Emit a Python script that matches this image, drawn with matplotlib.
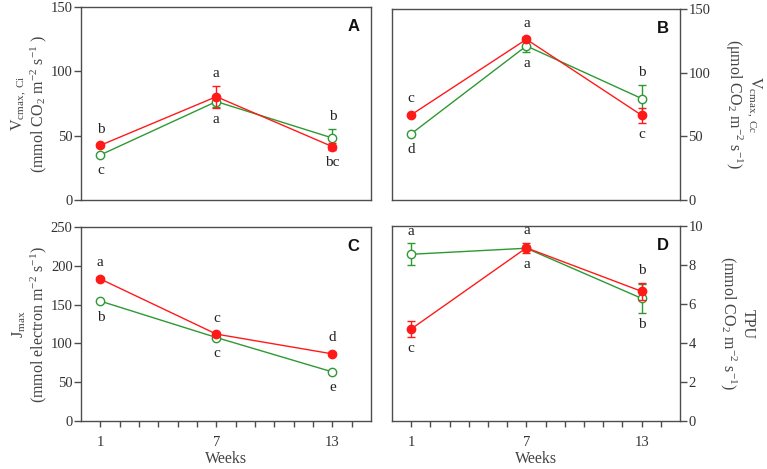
import matplotlib
matplotlib.use("Agg")
import matplotlib.pyplot as plt
import numpy as np

plt.rcParams['font.family'] = ['Liberation Serif', 'DejaVu Serif']
plt.rcParams['mathtext.fontset'] = 'stix'

weeks = [1, 7, 13]

# Panel A: Vcmax,Ci
a_red = [42.5, 80.3, 41.5]
a_red_err = [1.0, 8.6, 3.0]
a_green = [35.0, 76.5, 48.2]
a_green_err = [1.0, 4.5, 7.0]
a_red_letters = ['b', 'a', 'bc']
a_green_letters = ['c', 'a', 'b']

# Panel B: Vcmax,Cc
b_red = [66.9, 126.2, 66.6]
b_red_err = [1.0, 1.5, 6.0]
b_green = [52.0, 121.0, 79.7]
b_green_err = [1.0, 4.5, 11.0]
b_red_letters = ['c', 'a', 'c']
b_green_letters = ['d', 'a', 'b']

# Panel C: Jmax
c_red = [183.0, 112.0, 86.5]
c_red_err = [2.0, 2.0, 2.0]
c_green = [154.5, 107.6, 63.3]
c_green_err = [1.0, 1.0, 1.0]
c_red_letters = ['a', 'c', 'd']
c_green_letters = ['b', 'c', 'e']

# Panel D: TPU
d_red = [4.72, 8.88, 6.65]
d_red_err = [0.40, 0.26, 0.43]
d_green = [8.55, 8.86, 6.29]
d_green_err = [0.57, 0.10, 0.75]
d_red_letters = ['c', 'a', 'b']
d_green_letters = ['a', 'a', 'b']

RED = '#FF1A1A'
GREEN = '#2E9932'
GRAY = '#4D4D4D'

W, H = 767, 469
fig = plt.figure(figsize=(W / 100, H / 100), dpi=100)

def box(l, r, t, b):
    return [l / W, (H - b) / H, (r - l) / W, (b - t) / H]

axA = fig.add_axes(box(81, 371, 7, 200))
axB = fig.add_axes(box(392, 680, 9, 200))
axC = fig.add_axes(box(81, 371, 227, 421))
axD = fig.add_axes(box(392, 680, 226, 421))

panels = [
    (axA, a_red, a_red_err, a_green, a_green_err, a_red_letters, a_green_letters, (0, 150), [0, 50, 100, 150], 'A'),
    (axB, b_red, b_red_err, b_green, b_green_err, b_red_letters, b_green_letters, (0, 150), [0, 50, 100, 150], 'B'),
    (axC, c_red, c_red_err, c_green, c_green_err, c_red_letters, c_green_letters, (0, 250), [0, 50, 100, 150, 200, 250], 'C'),
    (axD, d_red, d_red_err, d_green, d_green_err, d_red_letters, d_green_letters, (0, 10), [0, 2, 4, 6, 8, 10], 'D'),
]

for ax, r, re, g, ge, rl, gl, ylim, yt, tag in panels:
    ax.set_xlim(0, 15)
    ax.set_ylim(*ylim)
    ax.set_yticks(yt)
    for s in ax.spines.values():
        s.set_color(GRAY)
        s.set_linewidth(1.0)
    ax.tick_params(axis='y', direction='out', length=5, width=1, colors=GRAY,
                   labelsize=10.5, labelcolor='#333333', pad=1)
    ax.errorbar(weeks, g, yerr=ge, color=GREEN, lw=1.0, marker='o', ms=6,
                mfc='white', mec=GREEN, mew=1.0, capsize=3, elinewidth=1.0,
                capthick=1.0, zorder=3)
    ax.errorbar(weeks, r, yerr=re, color=RED, lw=1.0, marker='o', ms=6,
                mfc=RED, mec=RED, mew=1.0, capsize=3, elinewidth=1.0,
                capthick=1.0, zorder=4)
    # significance letters
    ax_h = ax.get_position().height * H
    ppu = ax_h / (ylim[1] - ylim[0])
    for i, x in enumerate(weeks):
        if r[i] >= g[i]:
            hi = (r[i], re[i], rl[i]); lo = (g[i], ge[i], gl[i])
        else:
            hi = (g[i], ge[i], gl[i]); lo = (r[i], re[i], rl[i])
        off_hi = max(hi[1] * ppu, 4) + 12
        off_lo = max(lo[1] * ppu, 4) + 12
        ax.annotate(hi[2], (x, hi[0]), xytext=(0, off_hi), textcoords='offset pixels',
                    ha='center', va='center', fontsize=11, color='#222222')
        ax.annotate(lo[2], (x, lo[0]), xytext=(0, -off_lo), textcoords='offset pixels',
                    ha='center', va='center', fontsize=11, color='#222222')
    ax.text(0.96, 0.9, tag, transform=ax.transAxes, ha='right', va='center',
            fontsize=12, fontweight='bold', family='Liberation Sans', color='#111111')

for ax in (axA, axB):
    ax.set_xticks([])

for ax in (axC, axD):
    ax.set_xticks([1, 7, 13])
    ax.set_xticks(range(1, 15), minor=True)
    ax.tick_params(axis='x', which='both', direction='out', length=4, width=1,
                   colors=GRAY, labelsize=10.5, labelcolor='#333333', pad=7)
    ax.set_xlabel('Weeks', fontsize=11.5, color='#444444', labelpad=1)

for ax in (axB, axD):
    ax.yaxis.tick_right()
    ax.yaxis.set_label_position('right')

lab_kw = dict(fontsize=11.5, color='#444444', linespacing=1.05)
axA.set_ylabel('V$_{\\mathregular{cmax,\\ Ci}}$\n(mmol CO$_{\\mathregular{2}}$ m$^{\\mathregular{-2}}$ s$^{\\mathregular{-1}}$ )',
               labelpad=1, **lab_kw)
axC.set_ylabel('J$_{\\mathregular{max}}$\n(mmol electron m$^{\\mathregular{-2}}$ s$^{\\mathregular{-1}}$)',
               labelpad=1, **lab_kw)
axB.set_ylabel('V$_{\\mathregular{cmax,\\ Cc}}$\n(μmol CO$_{\\mathregular{2}}$ m$^{\\mathregular{-2}}$ s$^{\\mathregular{-1}}$)',
               rotation=270, labelpad=38, **lab_kw)
axD.set_ylabel('TPU\n(mmol CO$_{\\mathregular{2}}$ m$^{\\mathregular{-2}}$ s$^{\\mathregular{-1}}$)',
               rotation=270, labelpad=38, **lab_kw)

fig.savefig('out.png', dpi=100)
